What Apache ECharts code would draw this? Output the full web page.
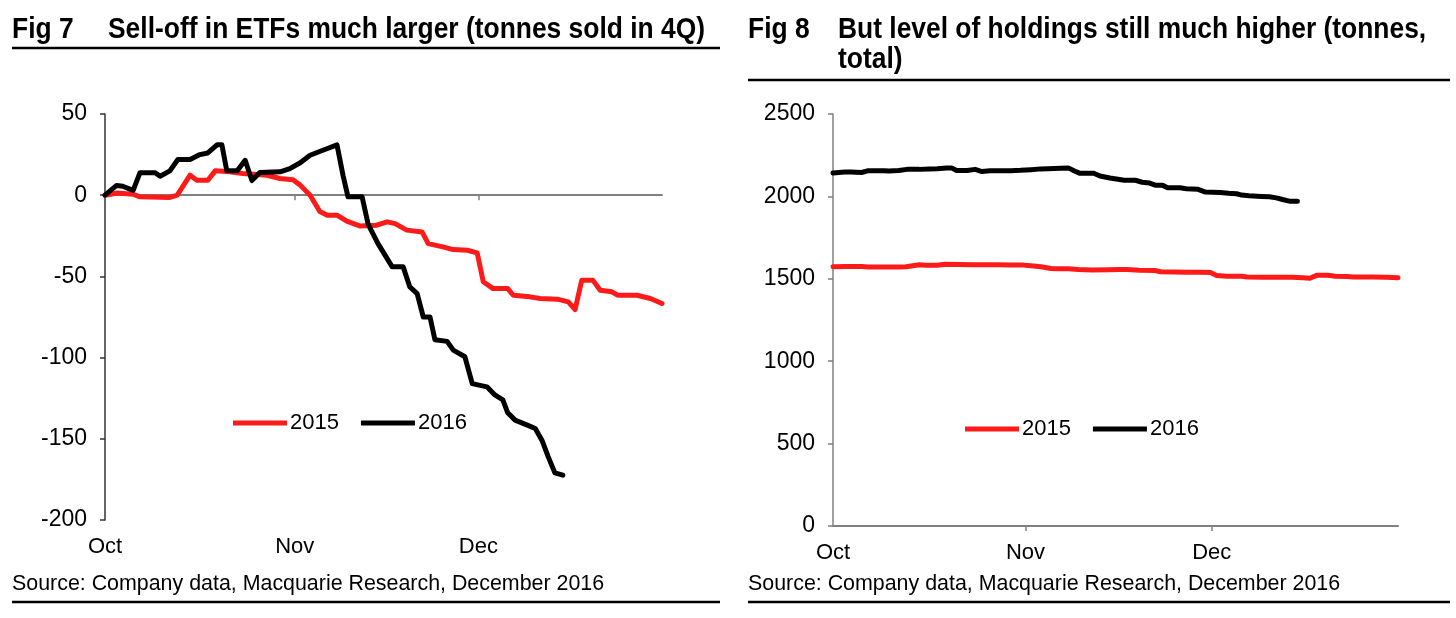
<!DOCTYPE html>
<html>
<head>
<meta charset="utf-8">
<script src="https://cdn.jsdelivr.net/npm/echarts@6/dist/echarts.min.js"></script>
<style>
html,body{margin:0;padding:0;background:#fff;}
#c{width:1456px;height:618px;}
</style>
</head>
<body>
<div id="c"></div>
<script>
// ---- data (day 0 = 1 Oct; 91 = 31 Dec) ----
const monthTicks = [0, 31, 61];
const monthLabels = ['Oct', 'Nov', 'Dec'];
const yTicksLeft = [-200, -150, -100, -50, 0, 50];
const yTicksRight = [0, 500, 1000, 1500, 2000, 2500];

// Fig 7: cumulative ETF change (tonnes)
const days2015 = [0,2.0,4.6,5.7,10.6,11.8,13.9,15.0,16.8,18.0,20.4,22.5,26.5,28.6,30.7,31.9,33.5,35.1,36.3,37.9,39.5,41.7,44.4,46.1,47.4,49.3,51.8,52.8,55.2,56.9,59.2,60.8,61.8,63.4,65.8,66.7,69.4,71.1,73.9,75.7,76.8,77.9,79.7,80.9,82.8,83.8,86.9,89.1,91.0];
const etf2015 = [0,1.4,0.6,-1,-1.4,0,12.3,9.2,9.2,15,14.4,13.3,12.3,10.3,9.5,6.2,0,-10,-12.3,-12.3,-16,-19,-18.5,-16.4,-17.5,-21.5,-22.6,-29.8,-31.8,-33.5,-33.9,-35.5,-53.3,-57.5,-57.5,-61.6,-62.6,-63.6,-64,-65.7,-70.4,-52.3,-52.3,-58.5,-59.5,-61.6,-61.6,-63.6,-66.7];
const days2016 = [0,1.9,2.9,4.6,5.7,8.2,9.0,10.6,11.9,13.9,15.5,16.8,18.3,19.1,19.9,21.6,22.9,24.0,25.3,28.6,30.2,31.9,33.5,35.6,37.9,38.9,39.7,42.0,43.0,44.6,46.9,48.7,49.8,51.0,52.0,53.1,53.9,55.9,56.9,58.8,60.0,62.4,63.7,65.0,65.8,67.0,69.0,70.3,71.4,72.4,73.5,74.8];
const etf2016 = [0,6,5.5,3,13.8,13.8,11.7,15,22,22,25,26,31,31,15,15,21.5,9,14,14.4,16.4,20,24.6,27.7,31,12,-1,-1,-18,-29.8,-44,-44,-56.5,-60.6,-75,-75,-89,-90,-95.4,-99.5,-116,-118,-123,-126,-134,-138.5,-141.6,-143.7,-151,-161,-171,-172.4];

// Fig 8: total holdings (tonnes)
const hold2015 = [1573,1574,1574,1572,1572,1573,1585,1582,1582,1588,1587,1586,1585,1583,1583,1579,1573,1563,1561,1561,1557,1554,1555,1557,1556,1552,1550,1543,1541,1540,1539,1538,1520,1516,1516,1511,1510,1509,1509,1507,1503,1521,1521,1515,1514,1511,1511,1509,1506];
const hold2016 = [2142,2148,2148,2145,2156,2156,2154,2157,2164,2164,2167,2168,2173,2173,2157,2157,2164,2151,2156,2156,2158,2162,2167,2170,2173,2154,2141,2141,2124,2112,2098,2098,2086,2081,2067,2067,2053,2052,2047,2043,2026,2024,2019,2016,2008,2004,2000,1998,1991,1981,1971,1970];

const zip = (xs, ys) => xs.map((x, i) => [x, ys[i]]);

const FONT = "'Liberation Sans', Arial, sans-serif";
const RED = '#ff1a1a';

const monthFmt = v => { const i = monthTicks.indexOf(Math.round(v)); return i >= 0 ? monthLabels[i] : ''; };

const chart = echarts.init(document.getElementById('c'), null, {renderer: 'canvas'});

const lineSeries = (name, color, xi, yi, data) => ({
  name, type: 'line', xAxisIndex: xi, yAxisIndex: yi, data,
  showSymbol: false, symbol: 'none', smooth: false, animation: false,
  lineStyle: {color, width: 5, join: 'round', cap: 'round'},
  itemStyle: {color}
});

const titleText = (x, y, text) => ({
  type: 'text', x, y, scaleX: 0.88, scaleY: 1,
  style: {text, font: "bold 30px " + FONT, fill: '#000', verticalAlign: 'middle'}
});

const legendCfg = (left, top) => ({
  data: ['2015', '2016'], left, top, padding: 0, icon: 'rect', itemWidth: 54, itemHeight: 5,
  itemGap: 22, selectedMode: false,
  textStyle: {fontSize: 22, fontFamily: FONT, color: '#000', padding: [0, 0, 0, -2]}
});

const option = {
  backgroundColor: '#fff',
  animation: false,
  grid: [
    {left: 105, right: 1456 - 662, top: 114, bottom: 618 - 520},
    {left: 833, right: 1456 - 1398, top: 114, bottom: 618 - 526}
  ],
  xAxis: [
    {type: 'value', gridIndex: 0, min: 0, max: 91, position: 'bottom',
     axisLine: {onZero: true, lineStyle: {color: '#808080', width: 2}},
     axisTick: {customValues: [31, 61], length: 5, lineStyle: {color: '#808080', width: 1.5}},
     axisLabel: {show: false}, splitLine: {show: false}},
    {type: 'value', gridIndex: 0, min: 0, max: 91, position: 'bottom',
     axisLine: {show: false, onZero: false}, axisTick: {show: false}, splitLine: {show: false},
     axisLabel: {customValues: monthTicks, formatter: monthFmt, margin: 16,
                 fontSize: 22, fontFamily: FONT, color: '#000'}},
    {type: 'value', gridIndex: 1, min: 0, max: 91, position: 'bottom',
     axisLine: {onZero: false, lineStyle: {color: '#808080', width: 2}},
     axisTick: {customValues: [31, 61], length: 5, lineStyle: {color: '#808080', width: 1.5}},
     splitLine: {show: false},
     axisLabel: {customValues: monthTicks, formatter: monthFmt, margin: 16,
                 fontSize: 22, fontFamily: FONT, color: '#000'}}
  ],
  yAxis: [
    {type: 'value', gridIndex: 0, min: yTicksLeft[0], max: yTicksLeft[yTicksLeft.length - 1], interval: 50,
     axisLine: {show: true, onZero: false, lineStyle: {color: '#333', width: 1.5}},
     axisTick: {show: true, length: 5, lineStyle: {color: '#333', width: 1.5}},
     splitLine: {show: false},
     axisLabel: {margin: 18, fontSize: 23, fontFamily: FONT, color: '#000', formatter: v => String(v)}},
    {type: 'value', gridIndex: 1, min: yTicksRight[0], max: yTicksRight[yTicksRight.length - 1], interval: 500,
     axisLine: {show: true, onZero: false, lineStyle: {color: '#808080', width: 1.5}},
     axisTick: {show: true, length: 5, lineStyle: {color: '#808080', width: 1.5}},
     splitLine: {show: false},
     axisLabel: {margin: 18, fontSize: 23, fontFamily: FONT, color: '#000', formatter: v => String(v)}}
  ],
  legend: [legendCfg(233, 412), legendCfg(965, 418)],
  series: [
    lineSeries('2015', RED, 0, 0, zip(days2015, etf2015)),
    lineSeries('2016', '#000', 0, 0, zip(days2016, etf2016)),
    lineSeries('2015', RED, 2, 1, zip(days2015, hold2015)),
    lineSeries('2016', '#000', 2, 1, zip(days2016, hold2016))
  ],
  graphic: [
    titleText(12, 30, 'Fig 7'),
    titleText(108, 30, 'Sell-off in ETFs much larger (tonnes sold in 4Q)'),
    {type: 'line', shape: {x1: 12, y1: 48, x2: 720, y2: 48}, style: {stroke: '#000', lineWidth: 2.5}},
    titleText(748, 30, 'Fig 8'),
    titleText(838, 30, 'But level of holdings still much higher (tonnes,'),
    titleText(838, 60, 'total)'),
    {type: 'line', shape: {x1: 748, y1: 80, x2: 1450, y2: 80}, style: {stroke: '#000', lineWidth: 2.5}},
    {type: 'text', x: 12, y: 584, style: {text: 'Source: Company data, Macquarie Research, December 2016', font: "21.4px " + FONT, fill: '#000', verticalAlign: 'middle'}},
    {type: 'line', shape: {x1: 12, y1: 602, x2: 720, y2: 602}, style: {stroke: '#000', lineWidth: 2.5}},
    {type: 'text', x: 748, y: 584, style: {text: 'Source: Company data, Macquarie Research, December 2016', font: "21.4px " + FONT, fill: '#000', verticalAlign: 'middle'}},
    {type: 'line', shape: {x1: 748, y1: 602, x2: 1450, y2: 602}, style: {stroke: '#000', lineWidth: 2.5}}
  ]
};
chart.setOption(option);
</script>
</body>
</html>
